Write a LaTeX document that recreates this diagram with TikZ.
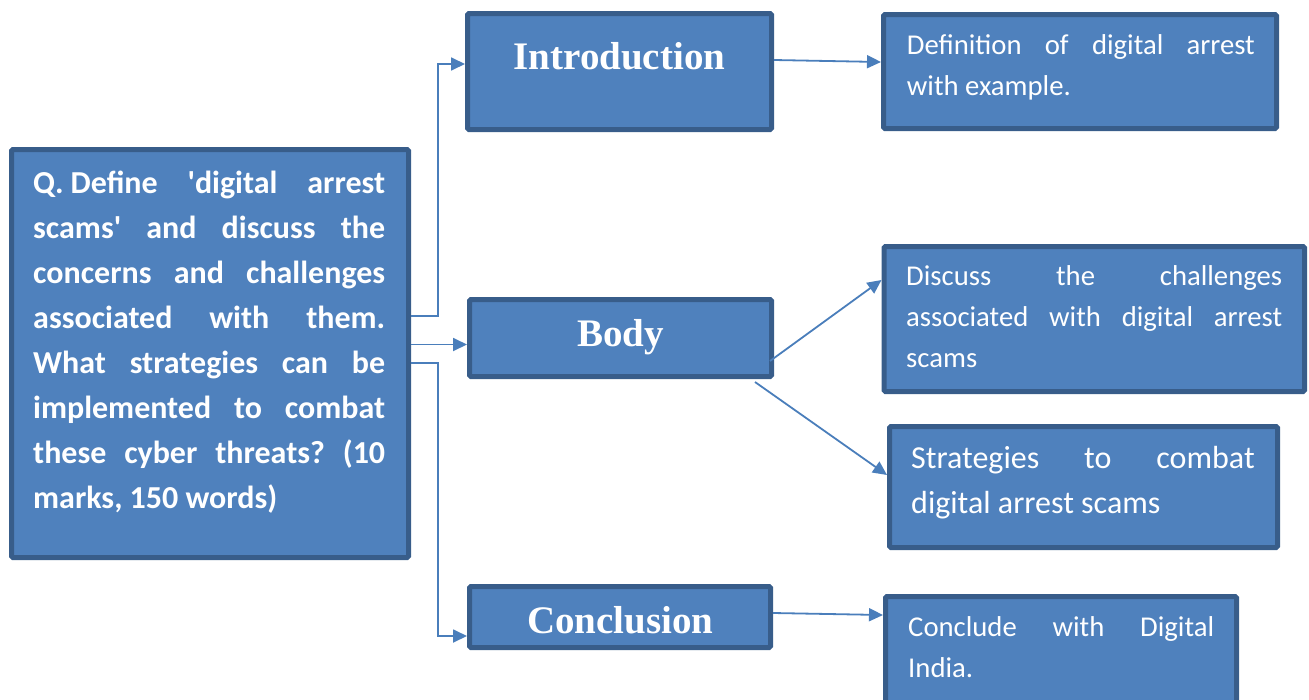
\documentclass[tikz,border=0pt]{standalone}
\usepackage{fontspec}
\setmainfont{Carlito}[Ligatures=TeXOff]
\newfontfamily\headfont{Liberation Serif}[Ligatures=TeXOff]
\usetikzlibrary{arrows.meta,calc}
\definecolor{boxfill}{HTML}{4F81BD}
\definecolor{boxline}{HTML}{385D8A}
\definecolor{linkblue}{HTML}{4A7EBB}
\frenchspacing
% one justified line, stretched to the full text width
\newcommand{\jline}[1]{{\spaceskip=0pt\xspaceskip=0pt\makebox[\hsize][s]{#1}}}
% one line at its natural width, with the font's own word spaces
\newcommand{\nline}[1]{{\spaceskip=0pt\xspaceskip=0pt\mbox{#1}}}
\begin{document}
\begin{tikzpicture}[x=1pt,y=-1pt,
  box/.style={draw=boxline, fill=boxfill, line width=5pt, rounded corners=1.5pt, inner sep=0pt},
  head/.style={text=white, font=\headfont\bfseries\fontsize{39}{44}\selectfont, anchor=base, inner sep=0pt},
  qtext/.style={text=white, font=\bfseries\fontsize{32}{45}\selectfont, anchor=base west, inner sep=0pt, align=left},
  note/.style={text=white, font=\fontsize{28.7}{41}\selectfont, anchor=base west, inner sep=0pt, align=left},
  bignote/.style={note, font=\fontsize{32}{45}\selectfont},
  conn/.style={draw=linkblue, line width=1.8pt, -{Triangle[length=14pt,width=13pt]}}]
\useasboundingbox (0,0) rectangle (1309,699);

% boxes
\node[box, minimum width=397pt, minimum height=408pt] (q) at (210,353.5) {};
\node[box, minimum width=304pt, minimum height=116pt] (intro) at (619.5,71.5) {};
\node[box, minimum width=302pt, minimum height=77pt] (body) at (620.5,338) {};
\node[box, minimum width=301pt, minimum height=61pt] (concl) at (620,617) {};
\node[box, minimum width=393pt, minimum height=114pt] (defn) at (1080,71.5) {};
\node[box, minimum width=420.5pt, minimum height=145pt] (disc) at (1094.25,319) {};
\node[box, minimum width=388pt, minimum height=121pt] (strat) at (1083.5,487) {};
\node[box, minimum width=351pt, minimum height=134pt] (cncl) at (1061,663.5) {};

% question text
\node[qtext, text width=352pt] (qt) at (33,193) {%
  \jline{Q.\hspace{0.22em}Define 'digital arrest}\\
  \jline{scams' and discuss the}\\
  \jline{concerns and challenges}\\
  \jline{associated with them.}\\
  \jline{What strategies can be}\\
  \jline{implemented to combat}\\
  \jline{these cyber threats? (10}\\
  \nline{marks, 150 words)}};

% headings
\node[head] (introT) at (619.5,69) {Introduction};
\node[head] (bodyT) at (620.8,346.7) {Body};
\node[head] (conclT) at (620.3,633) {Conclusion};

% notes
\node[note, text width=348pt] (defnT) at (906.7,54) {%
  \jline{Definition of digital arrest}\\ \nline{with example.}};
\node[note, text width=376pt] (discT) at (906,285) {%
  \jline{Discuss the challenges}\\
  \jline{associated with digital arrest}\\ scams};
\node[bignote, text width=343.5pt] (stratT) at (911,468) {%
  \jline{Strategies to combat}\\ \nline{digital arrest scams}};
\node[note, text width=306pt] (cnclT) at (908,636) {%
  \jline{Conclude with Digital}\\ India.};

% connectors
\coordinate (j1) at (438,316);
\coordinate (j2) at (438,363);
\coordinate (yI) at (0,64);
\coordinate (yB) at (0,344.5);
\coordinate (yC) at (0,636);
\draw[conn] (q.east |- j1) -- (j1) |- (intro.west |- yI);
\draw[conn] (q.east |- yB) -- (body.west |- yB);
\draw[conn] (q.east |- j2) -- (j2) |- (concl.west |- yC);

\draw[conn] ($(intro.east)+(0,-11.5)$) -- ($(defn.west)+(0,-9.5)$);
\draw[conn] ($(body.south east)+(-4,-18)$) -- ($(disc.west)+(0,-39)$);
\draw[conn] ($(body.south east)+(-19,3)$) -- ($(strat.west)+(0,-12)$);
\draw[conn] ($(concl.east)+(0,-4)$) -- ($(cncl.west)+(0,-48.5)$);
\end{tikzpicture}
\end{document}
